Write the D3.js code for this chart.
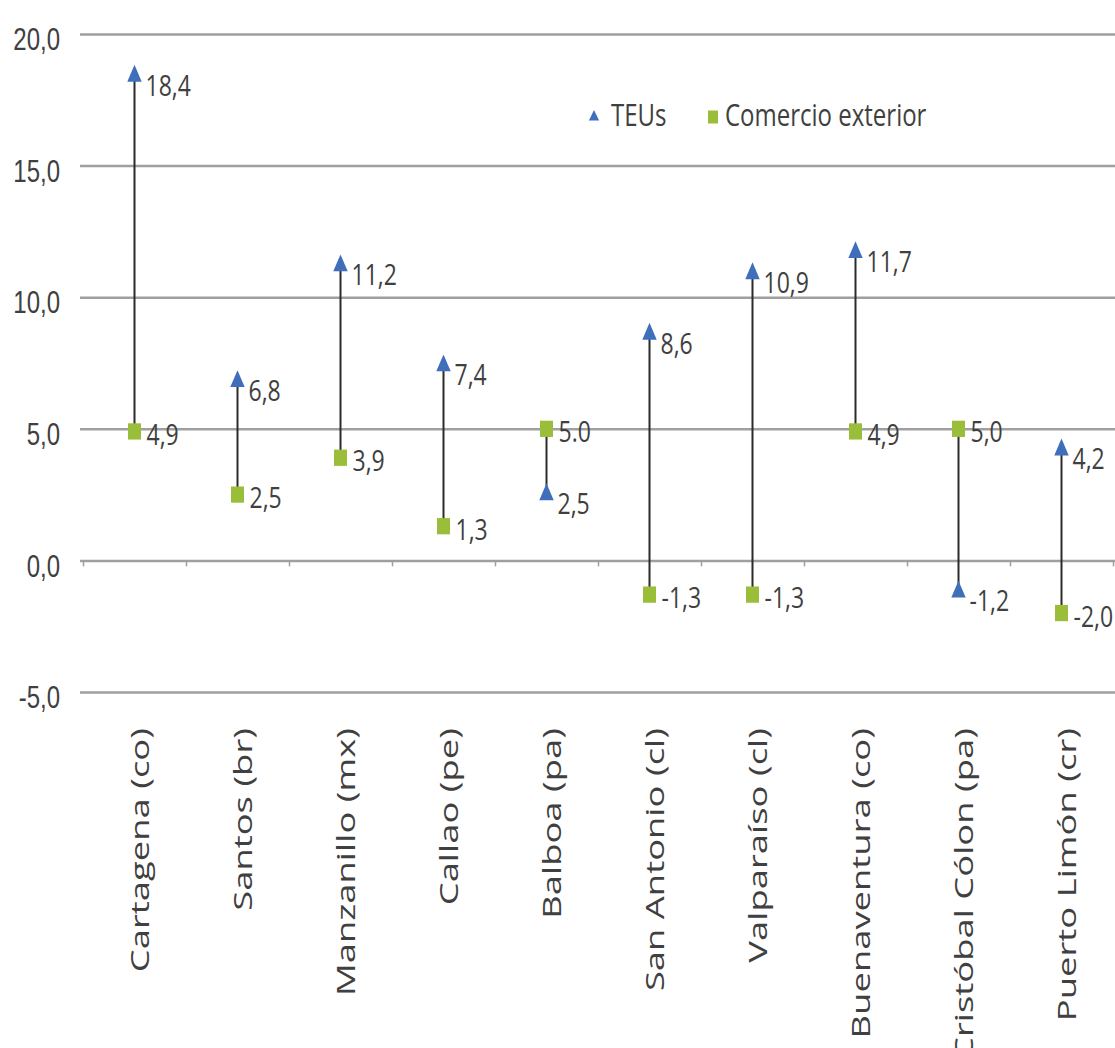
<!DOCTYPE html>
<html>
<head>
<meta charset="utf-8">
<script src="https://cdn.jsdelivr.net/npm/d3@7"></script>
<style>
  body { margin: 0; background: #fff; }
  svg { display: block; font-family: "Open Sans", "DejaVu Sans", sans-serif; }
</style>
</head>
<body>
<svg id="chart" width="1115" height="1048"></svg>
<script>
// data
var ports = ['Cartagena (co)', 'Santos (br)', 'Manzanillo (mx)', 'Callao (pe)', 'Balboa (pa)',
  'San Antonio (cl)', 'Valparaíso (cl)', 'Buenaventura (co)', 'Cristóbal Cólon (pa)', 'Puerto Limón (cr)'];
var teus = [18.4, 6.8, 11.2, 7.4, 2.5, 8.6, 10.9, 11.7, -1.2, 4.2];
var comercio = [4.9, 2.5, 3.9, 1.3, 5.0, -1.3, -1.3, 4.9, 5.0, -2.0];
var yTicks = [-5, 0, 5, 10, 15, 20];
var legendNames = ['TEUs', 'Comercio exterior'];

var locale = d3.formatLocale({decimal: ',', thousands: '.', grouping: [3], currency: ['', ''], minus: '-'});
var fmt = locale.format('.1f');

var teuText = teus.map(fmt);
var comText = comercio.map(fmt);
comText[4] = '5.0'; // as printed in the source

var blue = '#3f6fba', green = '#9abd3a', textCol = '#404040';

// Dimensions
var plotLeft = 80, plotRight = 1115, plotTop = 34, plotBottom = 692;

var svg = d3.select('#chart');

var x = d3.scaleBand().domain(ports).range([83, 1113]).padding(0);
var y = d3.scaleLinear().domain([-5, 20]).range([plotBottom, plotTop]);
var cx = function (d) { return x(d) + x.bandwidth() / 2; };

// gridlines + y labels
var yAxis = d3.axisLeft(y)
  .tickValues(yTicks)
  .tickSize(plotRight - plotLeft)
  .tickPadding(20)
  .tickFormat(fmt);

var gy = svg.append('g')
  .attr('transform', 'translate(' + plotRight + ',0)')
  .call(yAxis);
gy.select('.domain').remove();
gy.selectAll('line').attr('stroke', '#9f9f9f').attr('stroke-width', 2.5);
gy.selectAll('text')
  .attr('fill', textCol)
  .attr('font-size', 24)
  .attr('dy', '0.5em')
  .attr('transform', 'scale(1,1.3)');

// small ticks on the zero line at band edges
var xb = d3.scaleLinear().domain([0, ports.length]).range(x.range());
var gx = svg.append('g')
  .attr('transform', 'translate(0,' + y(0) + ')')
  .call(d3.axisBottom(xb).tickValues(d3.range(ports.length + 1)).tickSize(6).tickFormat(''));
gx.select('.domain').remove();
gx.selectAll('line').attr('stroke', '#9f9f9f').attr('stroke-width', 1.5);

// category labels
svg.append('g').selectAll('text')
  .data(ports)
  .enter()
  .append('text')
  .attr('transform', function (d) { return 'translate(' + (cx(d) + 5) + ',728) rotate(-90) scale(1.4,1)'; })
  .attr('text-anchor', 'end')
  .attr('dy', '0.35em')
  .attr('font-size', 26)
  .attr('fill', textCol)
  .text(function (d) { return d; });

// high-low lines
svg.append('g').selectAll('line')
  .data(ports)
  .enter()
  .append('line')
  .attr('x1', cx).attr('x2', cx)
  .attr('y1', function (d, i) { return y(teus[i]); })
  .attr('y2', function (d, i) { return y(comercio[i]); })
  .attr('stroke', '#2b2b2b')
  .attr('stroke-width', 2);

var tri = d3.symbol(d3.symbolTriangle, 90);
var sq = d3.symbol(d3.symbolSquare, 169);

// markers
svg.append('g').selectAll('path')
  .data(ports)
  .enter()
  .append('path')
  .attr('d', tri)
  .attr('fill', blue)
  .attr('transform', function (d, i) { return 'translate(' + cx(d) + ',' + y(teus[i]) + ') scale(1,1.35)'; });

svg.append('g').selectAll('path')
  .data(ports)
  .enter()
  .append('path')
  .attr('d', sq)
  .attr('fill', green)
  .attr('transform', function (d, i) { return 'translate(' + cx(d) + ',' + y(comercio[i]) + ') scale(1,1.25)'; });

// value labels
function addLabels(vals, txt, dx, dy) {
  svg.append('g').selectAll('text')
    .data(ports)
    .enter()
    .append('text')
    .attr('transform', function (d, i) { return 'translate(' + (cx(d) + dx) + ',' + (y(vals[i]) + dy) + ') scale(1,1.3)'; })
    .attr('dy', '0.35em')
    .attr('font-size', 23)
    .attr('fill', textCol)
    .text(function (d, i) { return txt[i]; });
}
addLabels(teus, teuText, 11, 9);
addLabels(comercio, comText, 12, 3);

// legend
var lg = svg.append('g');
lg.append('path').attr('d', d3.symbol(d3.symbolTriangle, 45))
  .attr('fill', blue).attr('transform', 'translate(594,117) scale(1,1.2)');
lg.append('text').attr('transform', 'translate(611,115) scale(1,1.3)').attr('dy', '0.35em')
  .attr('font-size', 24).attr('fill', textCol).text(legendNames[0]);
lg.append('path').attr('d', d3.symbol(d3.symbolSquare, 100))
  .attr('fill', green).attr('transform', 'translate(713,117) scale(1,1.3)');
lg.append('text').attr('transform', 'translate(725,115) scale(1,1.3)').attr('dy', '0.35em')
  .attr('font-size', 24).attr('fill', textCol).text(legendNames[1]);
</script>
</body>
</html>
